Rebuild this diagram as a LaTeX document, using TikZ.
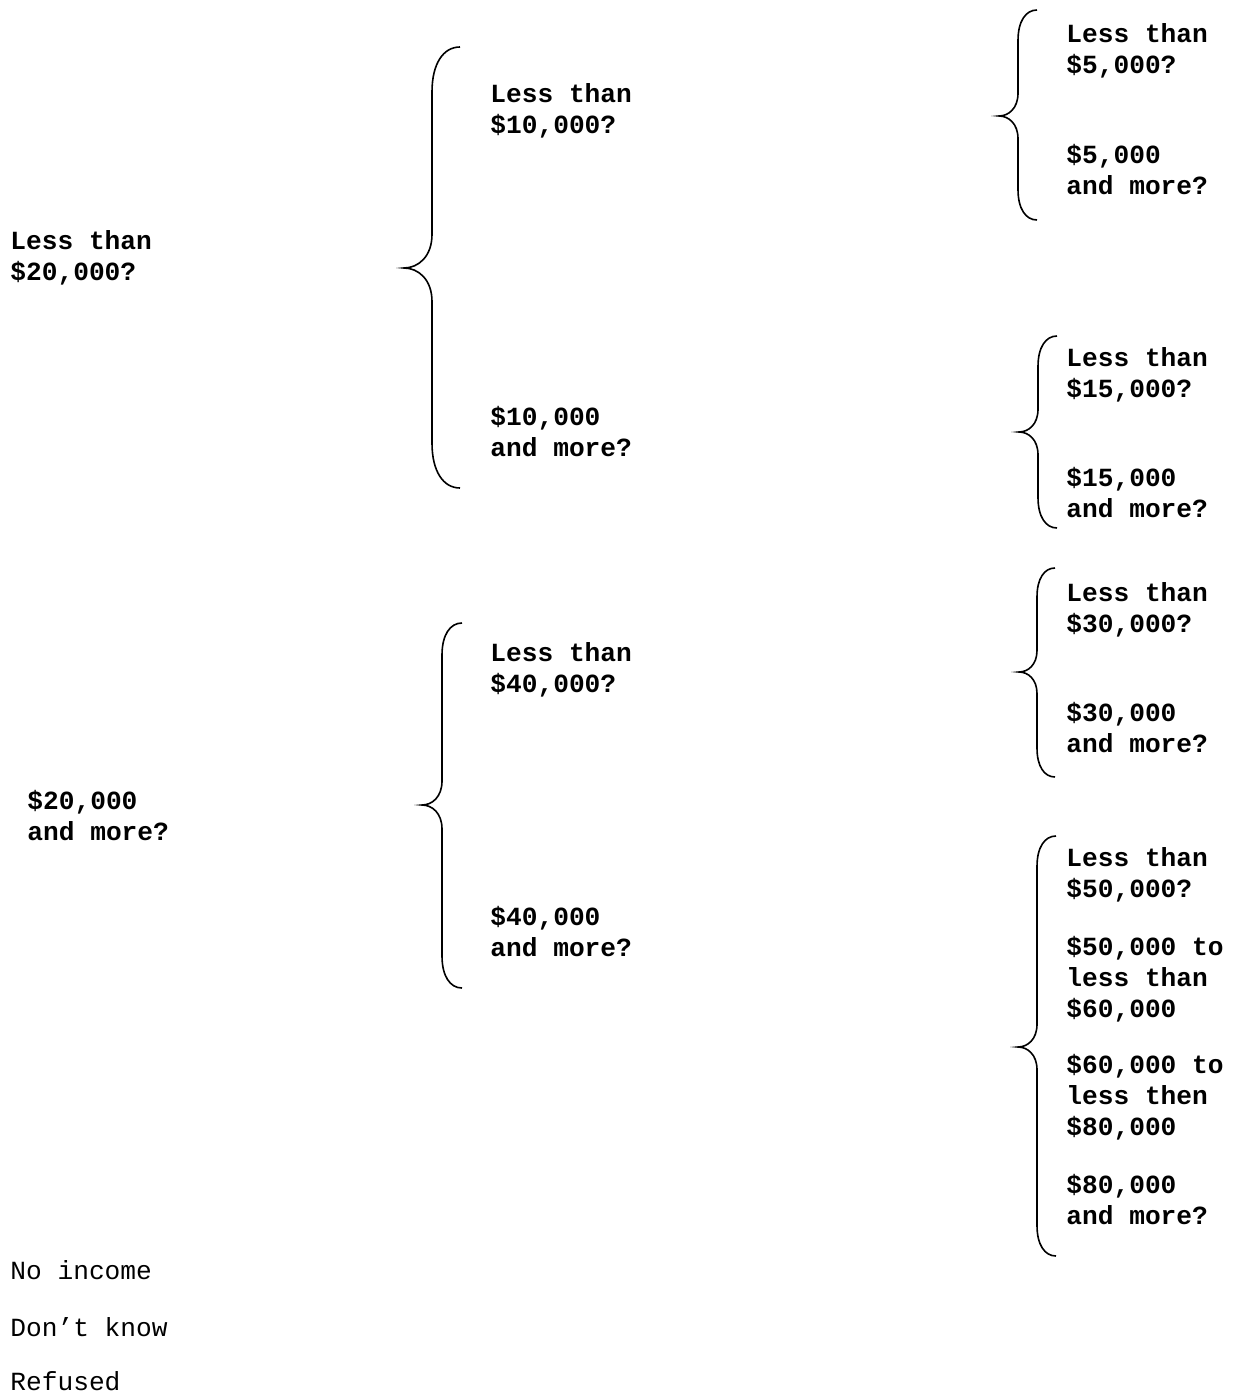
\documentclass[tikz,border=0pt]{standalone}
\usepackage{fontspec}
\setmonofont{Liberation Mono}
\usepackage{tikz}
\usetikzlibrary{positioning}

% #1 x of the stem, #2 top, #3 tip, #4 bottom, #5 width
\newcommand{\incbrace}[5]{%
	\draw [BraceLine] (#1+#5,#2) .. controls (#1+0.4*#5,#2) and (#1,#2+0.6*#5) .. (#1,#2+1.6*#5)
		-- (#1,#3-1.2*#5) .. controls (#1,#3-0.4*#5) and (#1-0.5*#5,#3) .. (#1-#5,#3)
		.. controls (#1-0.5*#5,#3) and (#1,#3+0.4*#5) .. (#1,#3+1.2*#5)
		-- (#1,#4-1.6*#5) .. controls (#1,#4-0.6*#5) and (#1+0.4*#5,#4) .. (#1+#5,#4);
}

\begin{document}
\begin{tikzpicture}[x=0.5pt, y=-0.5pt]
			\tikzstyle{Ask}		= [anchor=west, align=left, inner sep=0pt, font=\ttfamily\bfseries\fontsize{13.1}{15.5}\selectfont]
			\tikzstyle{Plain}	= [anchor=west, align=left, inner sep=0pt, font=\ttfamily\fontsize{13.1}{15.5}\selectfont]
			\tikzstyle{BraceLine}	= [line width=0.8pt, black]

			\useasboundingbox (0,0) rectangle (1233,1395);

			\node (lt20) at (10, 258) [Ask] {Less than\\\$20,000?};
			\node (mo20) at (27, 816) [Ask] {\$20,000\\and more?};

			\node (lt10) at (490, 111) [Ask] {Less than\\\$10,000?};
			\node (mo10) at (490, 432) [Ask] {\$10,000\\and more?};
			\node (lt40) at (490, 670) [Ask] {Less than\\\$40,000?};
			\node (mo40) at (490, 932) [Ask] {\$40,000\\and more?};

			\node (lt5) at (1066, 51) [Ask] {Less than\\\$5,000?};
			\node (mo5) at (1066, 170) [Ask] {\$5,000\\and more?};
			\node (lt15) at (1066, 375) [Ask] {Less than\\\$15,000?};
			\node (mo15) at (1066, 493) [Ask] {\$15,000\\and more?};
			\node (lt30) at (1066, 610) [Ask] {Less than\\\$30,000?};
			\node (mo30) at (1066, 728) [Ask] {\$30,000\\and more?};
			\node (lt50) at (1066, 875) [Ask] {Less than\\\$50,000?};
			\node (to60) at (1066, 979) [Ask] {\$50,000 to\\less than\\\$60,000};
			\node (to80) at (1066, 1097) [Ask] {\$60,000 to\\less then\\\$80,000};
			\node (mo80) at (1066, 1200) [Ask] {\$80,000\\and more?};

			\node (none) at (10, 1270) [Plain] {No income};
			\node (dk) at (10, 1327) [Plain] {Don’t know};
			\node (ref) at (10, 1381) [Plain] {Refused};

			\incbrace{432}{47}{268}{488}{28}
			\incbrace{442}{623}{805}{988}{20}
			\incbrace{1018}{10}{116}{220}{19}
			\incbrace{1038}{336}{432}{528}{19}
			\incbrace{1037}{568}{672}{777}{18}
			\incbrace{1037}{836}{1047}{1256}{19}
		\end{tikzpicture}
\end{document}
